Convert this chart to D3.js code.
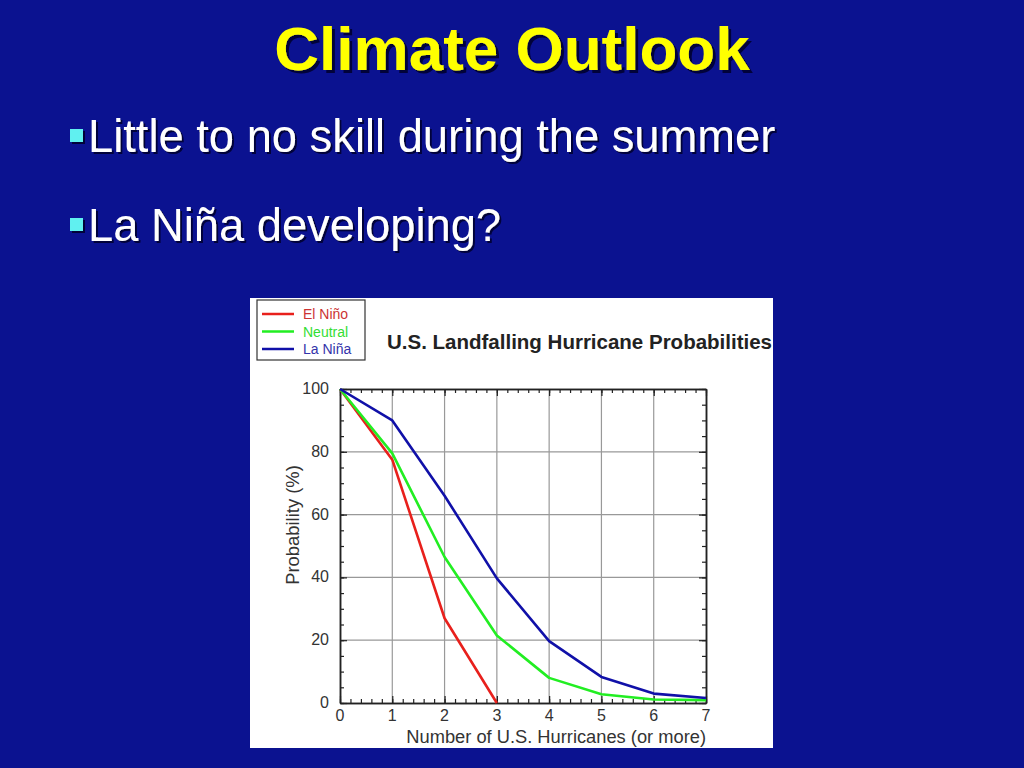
<!DOCTYPE html>
<html>
<head>
<meta charset="utf-8">
<script src="https://cdnjs.cloudflare.com/ajax/libs/d3/7.8.5/d3.min.js"></script>
<style>
  body { margin: 0; background: #0b1290; }
  svg { display: block; }
</style>
</head>
<body>
<script>
// data
var hurricanes = [0, 1, 2, 3, 4, 5, 6, 7];
var elNino  = [100, 77.5, 27, 0];
var neutral = [100, 79.5, 46.5, 21.5, 8, 2.8, 1.1, 0.9];
var laNina  = [100, 90, 66, 39.7, 19.7, 8.3, 3, 1.6];
var seriesNames  = ["El Niño", "Neutral", "La Niña"];
var seriesColors = ["#e8201c", "#22ee22", "#1010a8"];
var bullets = ["Little to no skill during the summer", "La Niña developing?"];

var font = "Liberation Sans, Arial, sans-serif";
var width = 1024, height = 768;
var svg = d3.select("body").append("svg")
	.attr("width", width)
	.attr("height", height);

// text shadow as a filter (one text element per label)
var defs = svg.append("defs");
defs.append("filter").attr("id", "shadow3")
	.attr("x", "-5%").attr("y", "-20%").attr("width", "115%").attr("height", "150%")
	.append("feDropShadow").attr("dx", 3).attr("dy", 3).attr("stdDeviation", 0.6)
	.attr("flood-color", "#000030").attr("flood-opacity", 0.9);
defs.append("filter").attr("id", "shadow2")
	.attr("x", "-5%").attr("y", "-20%").attr("width", "115%").attr("height", "150%")
	.append("feDropShadow").attr("dx", 2).attr("dy", 2).attr("stdDeviation", 0.5)
	.attr("flood-color", "#000030").attr("flood-opacity", 0.9);

svg.append("rect").attr("width", width).attr("height", height).attr("fill", "#0b1290");

// slide title
svg.append("text")
	.attr("x", 512).attr("y", 70)
	.attr("text-anchor", "middle")
	.attr("font-family", font)
	.attr("font-weight", "bold")
	.attr("font-size", "62px")
	.attr("fill", "#ffff00")
	.attr("filter", "url(#shadow3)")
	.text("Climate Outlook");

// bullets
bullets.forEach(function(b, i){
	var y = 152 + i * 89;
	svg.append("rect").attr("x", 70).attr("y", y - 23).attr("width", 13).attr("height", 13)
		.attr("fill", "#60f0f0").attr("filter", "url(#shadow2)");
	svg.append("text").attr("x", 88).attr("y", y)
		.attr("font-family", font)
		.attr("font-size", "45.3px").attr("fill", "#ffffff")
		.attr("filter", "url(#shadow2)").text(b);
});

// chart panel
svg.append("rect").attr("x", 250).attr("y", 298).attr("width", 523).attr("height", 450).attr("fill", "#ffffff");

var plot = {left: 340, right: 706, top: 389, bottom: 703};
var x = d3.scaleLinear().domain([0, 7]).range([plot.left, plot.right]);
var y = d3.scaleLinear().domain([0, 100]).range([plot.bottom, plot.top]);

var g = svg.append("g");

// grid
g.selectAll(".vgrid").data(d3.range(1, 7)).enter().append("line")
	.attr("x1", function(d){ return x(d); }).attr("x2", function(d){ return x(d); })
	.attr("y1", plot.top).attr("y2", plot.bottom)
	.attr("stroke", "#999").attr("stroke-width", 1.2);
g.selectAll(".hgrid").data([20, 40, 60, 80]).enter().append("line")
	.attr("x1", plot.left).attr("x2", plot.right)
	.attr("y1", function(d){ return y(d); }).attr("y2", function(d){ return y(d); })
	.attr("stroke", "#999").attr("stroke-width", 1.2);

// inward ticks on all four sides
function ticks(axis, values, size){
	return axis.tickValues(values).tickSize(-size).tickFormat("").tickSizeOuter(0);
}
var xMinor = d3.range(0, 7.001, 0.2).map(function(d){ return +d.toFixed(1); });
var yMinor = d3.range(0, 101, 5);
var sides = [
	["translate(0," + plot.bottom + ")", function(){ return d3.axisBottom(x); }],
	["translate(0," + plot.top + ")", function(){ return d3.axisTop(x); }],
	["translate(" + plot.left + ",0)", function(){ return d3.axisLeft(y); }],
	["translate(" + plot.right + ",0)", function(){ return d3.axisRight(y); }]
];
sides.forEach(function(s, i){
	var isX = i < 2;
	g.append("g").attr("transform", s[0])
		.call(ticks(s[1](), isX ? xMinor : yMinor, 4));
	g.append("g").attr("transform", s[0])
		.call(ticks(s[1](), isX ? hurricanes : [0, 20, 40, 60, 80, 100], 7));
});
g.selectAll(".domain").attr("stroke", "#222").attr("stroke-width", 1.5);
g.selectAll(".tick line").attr("stroke", "#222").attr("stroke-width", 1.2);

// tick labels
g.selectAll(".xlab").data(hurricanes).enter().append("text")
	.attr("x", function(d){ return x(d); }).attr("y", plot.bottom + 18)
	.attr("text-anchor", "middle")
	.attr("font-family", font).attr("font-size", "16px")
	.attr("fill", "#333").text(function(d){ return d; });
g.selectAll(".ylab").data([0, 20, 40, 60, 80, 100]).enter().append("text")
	.attr("x", plot.left - 11).attr("y", function(d){ return y(d) + 5; })
	.attr("text-anchor", "end")
	.attr("font-family", font).attr("font-size", "16px")
	.attr("fill", "#333").text(function(d){ return d; });

svg.append("text").attr("x", plot.right).attr("y", 743)
	.attr("text-anchor", "end")
	.attr("font-family", font).attr("font-size", "18.3px")
	.attr("fill", "#333").text("Number of U.S. Hurricanes (or more)");
svg.append("text")
	.attr("transform", "translate(299,525) rotate(-90)")
	.attr("text-anchor", "middle")
	.attr("font-family", font).attr("font-size", "18.4px")
	.attr("fill", "#333").text("Probability (%)");

// lines
var line = d3.line().x(function(d, i){ return x(hurricanes[i]); }).y(function(d){ return y(d); });
[elNino, neutral, laNina].forEach(function(s, i){
	g.append("path").datum(s).attr("d", line)
		.attr("fill", "none").attr("stroke", seriesColors[i]).attr("stroke-width", 2.6)
		.attr("stroke-linejoin", "round");
});

// chart title
svg.append("text").attr("x", 772).attr("y", 349)
	.attr("text-anchor", "end")
	.attr("font-family", font).attr("font-weight", "bold")
	.attr("font-size", "20.5px").attr("fill", "#222")
	.text("U.S. Landfalling Hurricane Probabilities");

// legend
svg.append("rect").attr("x", 257).attr("y", 300).attr("width", 108).attr("height", 60)
	.attr("fill", "#fff").attr("stroke", "#333").attr("stroke-width", 1.2);
seriesNames.forEach(function(n, i){
	var ly = 314 + i * 17.5;
	svg.append("line").attr("x1", 262).attr("x2", 294).attr("y1", ly).attr("y2", ly)
		.attr("stroke", seriesColors[i]).attr("stroke-width", 2.5);
	svg.append("text").attr("x", 303).attr("y", ly + 5)
		.attr("font-family", font).attr("font-size", "14px")
		.attr("fill", i === 1 ? "#33dd33" : (i === 0 ? "#cc3333" : "#3333aa")).text(n);
});
</script>
</body>
</html>
